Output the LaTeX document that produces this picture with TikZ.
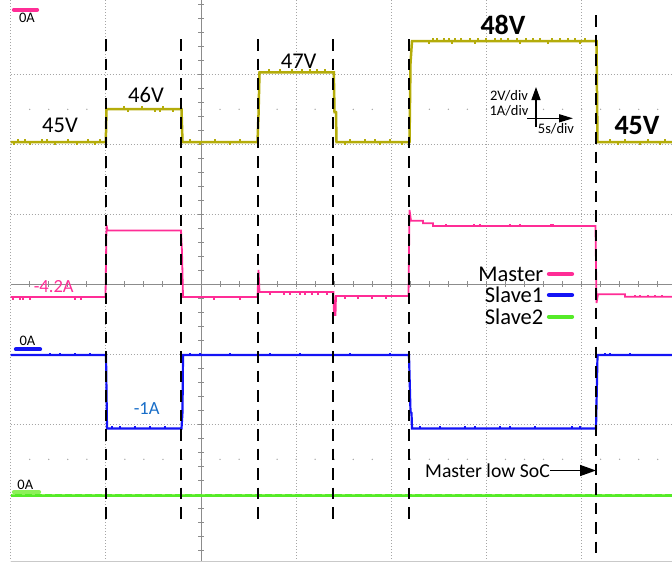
\documentclass[tikz,border=0pt]{standalone}
\usepackage{fontspec}
\setmainfont{Carlito}
\usetikzlibrary{arrows.meta}

\definecolor{vtrace}{RGB}{180,172,10}
\definecolor{mtrace}{RGB}{255,45,150}
\definecolor{strace}{RGB}{20,20,245}
\definecolor{gtrace}{RGB}{85,235,40}
\definecolor{gmark}{RGB}{140,240,90}
\definecolor{ilabel}{RGB}{25,110,200}
\definecolor{gridc}{RGB}{165,165,165}

\begin{document}
\begin{tikzpicture}[x=1pt,y=-1pt]
		\tikzstyle{gridline}=[draw=gridc,line width=0.9pt,dash pattern=on 1pt off 2pt]
		\tikzstyle{axis}=[draw=gridc!85!black,line width=0.9pt]
		\tikzstyle{evline}=[draw=black,line width=2pt,dash pattern=on 11.5pt off 8pt]
		\tikzstyle{volt}=[draw=vtrace,line width=2.5pt]
		\tikzstyle{mcur}=[draw=mtrace,line width=1.8pt]
		\tikzstyle{scur}=[draw=strace,line width=2.2pt]
		\tikzstyle{gcur}=[draw=gtrace,line width=3pt]
		\tikzstyle{noise}=[line width=1.3pt]
		\tikzstyle{chmark}=[line width=4.3pt,line cap=round]
		\tikzstyle{lbl}=[inner sep=0pt,font=\fontsize{22.5}{26}\selectfont]
		\tikzstyle{biglbl}=[inner sep=0pt,font=\fontsize{28}{32}\selectfont\bfseries]
		\tikzstyle{curlbl}=[inner sep=0pt,font=\fontsize{18.5}{22}\selectfont]
		\tikzstyle{small}=[inner sep=0pt,font=\fontsize{14.5}{17}\selectfont]
		\tikzstyle{pointer}=[draw=black,line width=1.4pt]
		
		\useasboundingbox (0,0) rectangle (672,563);
		
		% scope screen
		\foreach \i in {0,1,3,4,5,6}
			\draw[gridline] (10.7+95.17*\i,0) -- (10.7+95.17*\i,561);
		\foreach \j in {1,2,3,5,6,7}
			\draw[gridline] (10.7,4.3+70*\j) -- (672,4.3+70*\j);
		\draw[draw=gridc!60,line width=1pt] (10.7,561) -- (672,561);
		\foreach \k in {1,...,34} {
			\fill[gridc] (10.7+19.03*\k,109.3) circle (0.75);
			\fill[gridc] (10.7+19.03*\k,459.3) circle (0.75);
			\draw[axis] (10.7+19.03*\k,281.3) -- ++(0,6);
		}
		\foreach \k in {-20,...,19}
			\draw[axis] (198,284.3+14*\k) -- ++(6,0);
		\draw[axis] (201.04,0) -- (201.04,561);
		\draw[axis] (10.7,284.3) -- (672,284.3);
		
		% bus voltage
		\draw[volt] (10.7,142) -- (105.8,142) -- (106.5,109) -- (181.5,109) -- (182.5,142)
			-- (257.5,142) -- (258.5,115) -- (259.5,72.3) -- (333.8,72.3) -- (334.5,112)
			-- (336,112) -- (336.5,142) -- (409.5,142) -- (410.5,63) -- (412,41)
			-- (596.5,41) -- (597.5,142) -- (672,142);
		\foreach \x in {18,25,42,47,68,88,100,190,215,240,350,365,375,390,610,625,648,665}
			\draw[vtrace,noise] (\x,142) -- ++(0,-3.5);
		\foreach \x in {14,30,55,77,95,200,230,345,380,402,618,640,660}
			\draw[vtrace,noise] (\x,142) -- ++(0,3);
		\foreach \x in {124,142,163}
			\draw[vtrace,noise] (\x,109) -- ++(0,-3.5);
		\foreach \x in {128,155,160,173}
			\draw[vtrace,noise] (\x,109) -- ++(0,3);
		\foreach \x in {269,280,292,302,310,317,325}
			\draw[vtrace,noise] (\x,72.3) -- ++(0,-3.5);
		\foreach \x in {433,437,444,449,455,461,470,478,486,495,501,508,517,526,533,540,552,560,568,575,585}
			\draw[vtrace,noise] (\x,41) -- ++(0,-3);
		\foreach \x in {429,452,475,520,548,580}
			\draw[vtrace,noise] (\x,41) -- ++(0,3);
		
		% master current
		\draw[mcur] (10.7,297) -- (105.5,297) -- (106.5,225) -- (107.5,230.5) -- (181,230.5)
			-- (182,252) -- (183,297) -- (257.5,297) -- (258.5,270) -- (259.5,292)
			-- (333.5,292) -- (334,315) -- (335.5,315) -- (336,296) -- (408.5,296)
			-- (409.5,210) -- (411,220.7) -- (423,220.7) -- (423,223.3) -- (433,223.3)
			-- (433,226) -- (595.5,226) -- (596.5,303) -- (598,294.3) -- (625,294.3)
			-- (625,296.7) -- (672,296.7);
		\foreach \x in {13,20,23,30,75,81,214,240}
			\draw[mtrace,noise] (\x,297) -- ++(0,2.5);
		\foreach \x in {270,284,290,300,305,312,318,327}
			\draw[mtrace,noise] (\x,292) -- ++(0,2.5);
		\foreach \x in {345,358,372,386}
			\draw[mtrace,noise] (\x,296) -- ++(0,2.5);
		\foreach \x in {446,474,480,510,520,551,553}
			\draw[mtrace,noise] (\x,226) -- ++(0,-2.5);
		\foreach \x in {635,640,648,655,662}
			\draw[mtrace,noise] (\x,296.7) -- ++(0,-2);
		
		% slave currents
		\draw[scur] (10.7,355) -- (106,355) -- (107,428.5) -- (181.5,428.5) -- (182.5,412)
			-- (183,355) -- (409,355) -- (410.5,412) -- (411.5,413) -- (412,428.5)
			-- (596,428.5) -- (597.5,355) -- (672,355);
		\foreach \x in {50,60,75,90,190,200,230,270,300,350,390,605,610,630}
			\draw[strace,noise] (\x,355) -- ++(0,-2.5);
		\foreach \x in {112,120,135,150,165,420,440,465,475,500,510,535,572,580}
			\draw[strace,noise] (\x,428.5) -- ++(0,-2.5);
		\draw[gcur] (10.7,495) -- (672,495);
		\draw[gmark,line width=0.8pt,dash pattern=on 3pt off 7pt] (12,494) -- (672,494);
		
		% event lines
		\foreach \x in {105.5,181,257.5,333,408.5}
			\draw[evline] (\x,39) -- (\x,523);
		\draw[evline] (596,15) -- (596,553);
		
		% channel markers
		\draw[mtrace,chmark] (14,9.7) -- (37,9.7);
		\draw[strace,chmark] (16,349.3) -- (40,349.3);
		\draw[gmark,chmark] (14,492.3) -- (39,492.3);
		\node[small] (zm) at (27,18) {0A};
		\node[small] (zs1) at (27.5,341) {0A};
		\node[small] (zs2) at (25.3,485.3) {0A};
		
		% levels
		\node[lbl] (v45a) at (60,125.5) {45V};
		\node[lbl] (v46) at (146,95.3) {46V};
		\node[lbl] (v47) at (298.7,60.8) {47V};
		\node[biglbl] (v48) at (503,24.7) {48V};
		\node[biglbl] (v45b) at (637,125.5) {45V};
		\node[curlbl,text=mtrace] (imaster) at (53.7,287) {-4.2A};
		\node[curlbl,text=ilabel] (islave) at (146.7,408.7) {-1A};
		
		% scale
		\node[small] (vdiv) at (509,96) {2V/div};
		\node[small] (adiv) at (509,110.5) {1A/div};
		\node[small] (tdiv) at (556,129) {5s/div};
		\coordinate (vbot) at (536,126.5);
		\coordinate (vtop) at (536,87);
		\coordinate (hleft) at (527,118.3);
		\coordinate (hright) at (573,118.3);
		\draw[pointer,-{Triangle[length=13pt,width=9pt]}] (vbot) -- (vtop);
		\draw[pointer,-{Triangle[length=14pt,width=8pt]}] (hleft) -- (hright);
		
		% legend
		\node[lbl,anchor=east] (master) at (543.5,274) {Master};
		\node[lbl,anchor=east] (slave1) at (543.5,295) {Slave1};
		\node[lbl,anchor=east] (slave2) at (543.5,316.5) {Slave2};
		\draw[mtrace,chmark] (549,274) -- (572,274);
		\draw[strace,chmark] (549,295) -- (572,295);
		\draw[gtrace,chmark] (549,316.7) -- (572,316.7);
		
		\node[font=\fontsize{19.7}{23}\selectfont,inner sep=0pt] (soc) at (487.5,470.5) {Master low SoC};
		\coordinate (socend) at (596,470.5);
		\draw[pointer,-{Triangle[length=16pt,width=11pt]}] (soc.east) -- (socend);
		\end{tikzpicture}
\end{document}
